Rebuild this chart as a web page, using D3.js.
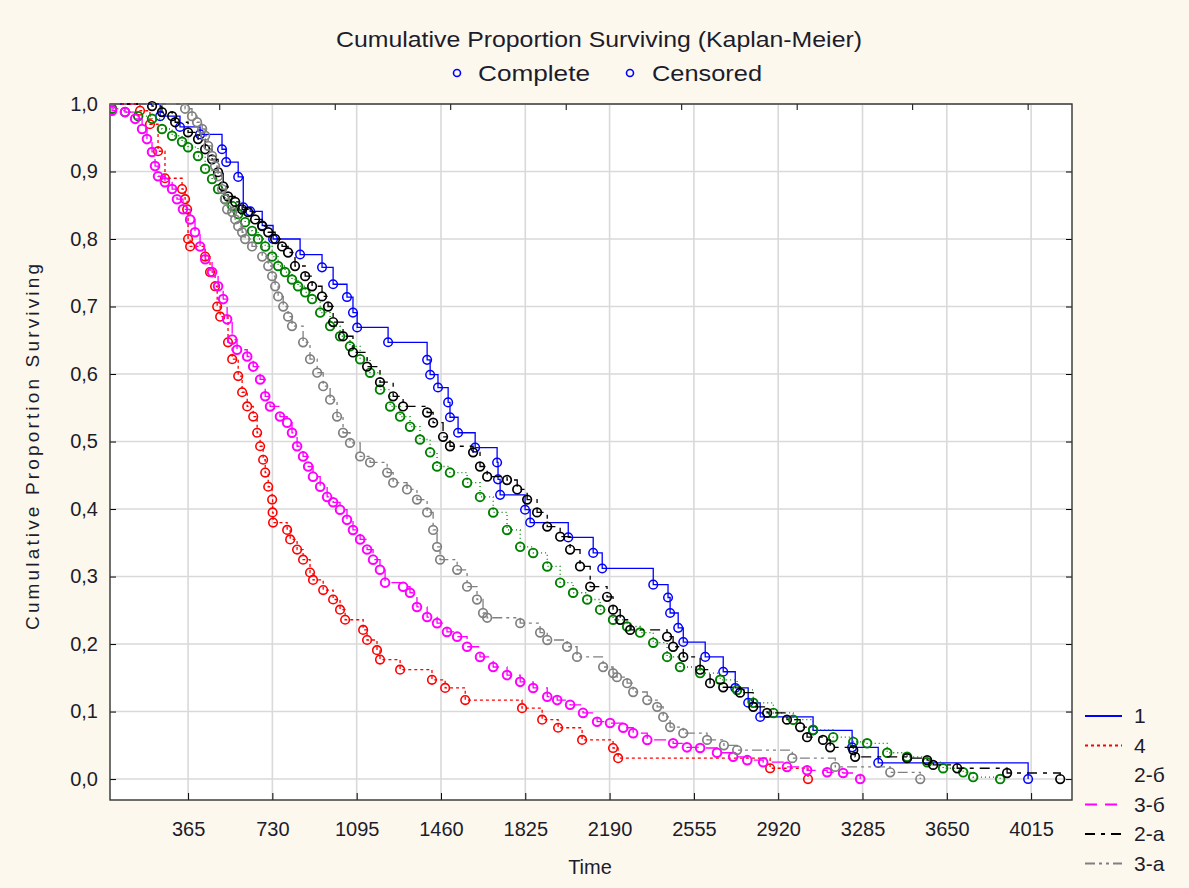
<!DOCTYPE html>
<html>
<head>
<meta charset="utf-8">
<script src="https://cdn.jsdelivr.net/npm/d3@7"></script>
<style>
  body { margin: 0; background: #fdf8ee; }
  text { font-family: "Liberation Sans", Arial, sans-serif; fill: #1c1c2a; }
</style>
</head>
<body>
<div id="chart"></div>
<script>
// Kaplan-Meier curves (time in days, proportion surviving)
const t1 = [27, 244, 330, 417, 512, 530, 582, 604, 634, 686, 733, 850, 945, 993, 1053, 1079, 1097, 1231, 1400, 1413, 1447, 1491, 1499, 1534, 1608, 1703, 1707, 1716, 1824, 1846, 2011, 2119, 2158, 2379, 2443, 2452, 2487, 2509, 2604, 2682, 2734, 2790, 2842, 3071, 3240, 3353, 4002];
const s1 = [1, .982, .966, .955, .933, .914, .892, .847, .841, .82, .80, .777, .758, .733, .714, .691, .669, .647, .621, .599, .58, .558, .536, .513, .491, .469, .444, .421, .399, .38, .358, .335, .312, .288, .269, .246, .224, .203, .181, .159, .135, .113, .092, .072, .047, .024, 0];

const t4 = [27, 157, 200, 235, 265, 339, 352, 361, 365, 374, 439, 460, 482, 491, 504, 538, 556, 582, 599, 621, 647, 664, 677, 690, 699, 712, 729, 731, 733, 794, 807, 837, 863, 893, 906, 950, 993, 1023, 1045, 1123, 1140, 1183, 1196, 1283, 1421, 1478, 1565, 1811, 1898, 1967, 2071, 2205, 2227, 2885, 3049];
const s4 = [1, .99, .97, .93, .89, .874, .859, .844, .80, .789, .774, .751, .73, .70, .685, .647, .622, .597, .573, .552, .537, .513, .493, .473, .454, .433, .414, .395, .38, .369, .355, .34, .325, .306, .295, .28, .266, .251, .236, .221, .206, .191, .177, .162, .147, .135, .117, .105, .088, .076, .058, .046, .031, .016, 0];

const t2b = [27, 36, 92, 149, 209, 252, 296, 339, 365, 408, 439, 469, 495, 525, 556, 582, 612, 642, 668, 699, 729, 755, 785, 815, 841, 872, 902, 937, 980, 1023, 1066, 1110, 1153, 1196, 1240, 1283, 1326, 1369, 1413, 1443, 1499, 1573, 1629, 1686, 1746, 1803, 1859, 1920, 1976, 2032, 2093, 2149, 2205, 2266, 2322, 2379, 2439, 2495, 2582, 2669, 2742, 2812, 2899, 2985, 3071, 3158, 3245, 3305, 3392, 3478, 3565, 3634, 3721, 3764, 3881];
const s2b = [1, .993, .988, .982, .978, .963, .953, .944, .936, .923, .904, .889, .874, .859, .849, .837, .825, .812, .80, .789, .774, .76, .751, .74, .73, .721, .711, .691, .671, .656, .641, .622, .602, .577, .552, .537, .522, .503, .484, .463, .454, .439, .418, .395, .369, .344, .335, .315, .291, .276, .266, .251, .236, .226, .217, .202, .181, .166, .157, .147, .132, .113, .098, .088, .073, .062, .055, .053, .039, .033, .025, .016, .01, .003, 0];

const t3b = [27, 36, 92, 136, 166, 187, 209, 222, 235, 265, 296, 317, 343, 374, 395, 417, 439, 469, 495, 517, 534, 556, 577, 621, 647, 677, 699, 720, 763, 794, 815, 837, 863, 885, 906, 937, 967, 993, 1023, 1053, 1079, 1110, 1140, 1166, 1196, 1218, 1296, 1326, 1356, 1400, 1443, 1486, 1530, 1573, 1629, 1686, 1746, 1803, 1859, 1920, 1963, 2019, 2075, 2136, 2192, 2249, 2292, 2353, 2465, 2525, 2582, 2655, 2725, 2786, 2855, 2958, 3045, 3132, 3201, 3275];
const s3b = [1, .99, .988, .978, .963, .948, .929, .908, .893, .884, .874, .859, .844, .829, .81, .789, .77, .751, .73, .711, .681, .651, .636, .626, .611, .592, .567, .552, .537, .528, .513, .493, .478, .463, .448, .433, .418, .41, .399, .384, .369, .355, .34, .325, .31, .291, .285, .276, .255, .24, .231, .218, .211, .196, .181, .166, .154, .144, .135, .122, .117, .11, .098, .085, .083, .076, .068, .058, .053, .047, .046, .039, .033, .028, .025, .018, .013, .01, .009, 0];

const t2a = [27, 209, 252, 296, 309, 365, 408, 439, 469, 495, 517, 538, 569, 599, 625, 655, 686, 712, 742, 772, 798, 828, 872, 902, 945, 971, 993, 1036, 1079, 1140, 1196, 1253, 1296, 1400, 1426, 1469, 1499, 1599, 1629, 1660, 1746, 1790, 1833, 1876, 1920, 1976, 2019, 2062, 2106, 2179, 2205, 2236, 2279, 2439, 2465, 2509, 2582, 2625, 2682, 2755, 2812, 2872, 2958, 3015, 3045, 3114, 3145, 3245, 3253, 3478, 3565, 3591, 3695, 3911, 4141];
const s2a = [1, .997, .988, .982, .973, .958, .948, .933, .918, .899, .878, .863, .855, .844, .84, .829, .819, .81, .80, .789, .78, .76, .745, .73, .715, .70, .677, .656, .632, .611, .588, .567, .552, .543, .528, .507, .493, .484, .463, .448, .443, .429, .414, .395, .374, .359, .34, .315, .285, .27, .251, .236, .221, .211, .196, .181, .162, .142, .136, .128, .107, .098, .088, .077, .062, .058, .047, .043, .033, .031, .028, .021, .016, .009, 0];

const t3a = [27, 352, 382, 404, 426, 439, 452, 469, 482, 495, 512, 525, 534, 556, 569, 582, 599, 612, 642, 686, 712, 729, 742, 755, 777, 798, 815, 863, 893, 924, 950, 980, 1010, 1036, 1066, 1110, 1153, 1227, 1253, 1313, 1356, 1400, 1426, 1443, 1456, 1530, 1573, 1616, 1642, 1660, 1803, 1889, 1920, 2006, 2049, 2162, 2205, 2222, 2266, 2292, 2353, 2396, 2422, 2452, 2509, 2612, 2685, 2742, 2981, 3167, 3405, 3535];
const s3a = [1, .993, .982, .973, .963, .953, .938, .923, .908, .893, .874, .859, .844, .84, .829, .819, .81, .80, .789, .774, .76, .745, .73, .715, .70, .685, .671, .647, .622, .602, .582, .562, .537, .513, .498, .478, .469, .454, .439, .429, .414, .395, .369, .344, .325, .31, .285, .266, .246, .239, .231, .217, .206, .196, .181, .166, .157, .151, .142, .129, .117, .107, .092, .077, .068, .058, .05, .043, .031, .018, .01, 0];

const seriesNames = ['1', '4', '2-б', '3-б', '2-a', '3-a'];
const xTicks = [365, 730, 1095, 1460, 1825, 2190, 2555, 2920, 3285, 3650, 4015];
const topTicks = [500, 1000, 1500, 2000, 2500, 3000, 3500, 4000];
const yTicks = [0, .1, .2, .3, .4, .5, .6, .7, .8, .9, 1];

const series = [
  { name: '1',   t: t1,  s: s1,  color: '#0000ff', dash: null,           legend: true,  sw: 1.5 },
  { name: '4',   t: t4,  s: s4,  color: '#ff0000', dash: '3,3',          legend: true,  sw: 1.6 },
  { name: '2-б', t: t2b, s: s2b, color: '#008000', dash: '1,3',          legend: false, sw: 1.9 },
  { name: '3-б', t: t3b, s: s3b, color: '#ff00ff', dash: '12,8',         legend: true,  sw: 2 },
  { name: '2-a', t: t2a, s: s2a, color: '#000000', dash: '10,6,4,6',     legend: true,  sw: 1.7 },
  { name: '3-a', t: t3a, s: s3a, color: '#808080', dash: '10,4,3,4,3,4', legend: true,  sw: 1.7 }
];

const width = 1189, height = 888;
const plot = { left: 110, right: 1072, top: 104, bottom: 800 };

const svg = d3.select('#chart').append('svg')
  .attr('width', width)
  .attr('height', height)
  .style('display', 'block')
  .style('background', '#fdf8ee');

const x = d3.scaleLinear().domain([27, 4192]).range([plot.left, plot.right]);
const y = d3.scaleLinear().domain([-0.031, 1]).range([plot.bottom, plot.top]);

svg.append('rect')
  .attr('x', plot.left).attr('y', plot.top)
  .attr('width', plot.right - plot.left).attr('height', plot.bottom - plot.top)
  .attr('fill', '#ffffff');

svg.append('clipPath').attr('id', 'clip')
  .append('rect')
  .attr('x', plot.left).attr('y', plot.top - 4)
  .attr('width', plot.right - plot.left).attr('height', plot.bottom - plot.top + 4);

// grid
const grid = svg.append('g').attr('stroke', '#d9d9d9').attr('stroke-width', 1.6);
grid.selectAll('.gx').data(xTicks).join('line')
  .attr('x1', d => x(d)).attr('x2', d => x(d))
  .attr('y1', plot.top).attr('y2', plot.bottom);
grid.selectAll('.gy').data(yTicks).join('line')
  .attr('x1', plot.left).attr('x2', plot.right)
  .attr('y1', d => y(d)).attr('y2', d => y(d));

// axes, ticks pointing inward
svg.append('g')
  .attr('transform', `translate(0,${plot.bottom})`)
  .call(d3.axisBottom(x).tickValues(xTicks).tickFormat(d3.format('d'))
    .tickSizeInner(-7).tickSizeOuter(0).tickPadding(22))
  .call(g => g.select('.domain').remove())
  .call(g => g.selectAll('text').attr('font-size', 20).attr('fill', '#1c1c2a'));

svg.append('g')
  .attr('transform', `translate(0,${plot.top})`)
  .call(d3.axisTop(x).tickValues(topTicks).tickSizeInner(-6).tickSizeOuter(0).tickFormat(''))
  .call(g => g.select('.domain').remove());

svg.append('g')
  .attr('transform', `translate(${plot.left},0)`)
  .call(d3.axisLeft(y).tickValues(yTicks).tickSizeInner(-6).tickSizeOuter(0).tickPadding(12)
    .tickFormat(d => d3.format('.1f')(d).replace('.', ',')))
  .call(g => g.select('.domain').remove())
  .call(g => g.selectAll('text').attr('font-size', 20).attr('fill', '#1c1c2a'));

svg.append('g')
  .attr('transform', `translate(${plot.right},0)`)
  .call(d3.axisRight(y).tickValues(yTicks.slice(0, 10)).tickSizeInner(-6).tickSizeOuter(0).tickFormat(''))
  .call(g => g.select('.domain').remove());

svg.append('rect')
  .attr('x', plot.left).attr('y', plot.top)
  .attr('width', plot.right - plot.left).attr('height', plot.bottom - plot.top)
  .attr('fill', 'none').attr('stroke', '#333').attr('stroke-width', 1.4);

// curves
const line = d3.line()
  .x(d => x(d[0]))
  .y(d => y(d[1]))
  .curve(d3.curveStepAfter);

const body = svg.append('g').attr('clip-path', 'url(#clip)');
series.forEach(ser => {
  const pts = ser.t.map((t, i) => [t, ser.s[i]]);
  body.append('path')
    .attr('d', line(pts))
    .attr('fill', 'none')
    .attr('stroke', ser.color)
    .attr('stroke-width', 1.3)
    .attr('stroke-dasharray', ser.dash);
  body.append('g').selectAll('circle')
    .data(pts.slice(1))
    .join('circle')
      .attr('cx', d => x(d[0]))
      .attr('cy', d => y(d[1]))
      .attr('r', 4.3)
      .attr('fill', 'none')
      .attr('stroke', ser.color)
      .attr('stroke-width', ser.sw);
});

// title and marker legend
svg.append('text')
  .attr('x', 336).attr('y', 47)
  .attr('font-size', 22)
  .attr('textLength', 526).attr('lengthAdjust', 'spacingAndGlyphs')
  .text('Cumulative Proportion Surviving (Kaplan-Meier)');

[['Complete', 457, 478, 112], ['Censored', 630, 652, 110]].forEach(([label, cx, tx, len]) => {
  svg.append('circle').attr('cx', cx).attr('cy', 73).attr('r', 3.5)
    .attr('fill', 'none').attr('stroke', '#0000ff').attr('stroke-width', 1.6);
  svg.append('text').attr('x', tx).attr('y', 81)
    .attr('font-size', 22)
    .attr('textLength', len).attr('lengthAdjust', 'spacingAndGlyphs')
    .text(label);
});

// axis titles
svg.append('text')
  .attr('x', 590).attr('y', 874)
  .attr('text-anchor', 'middle')
  .attr('font-size', 20)
  .text('Time');

svg.append('text')
  .attr('transform', 'translate(39,447) rotate(-90)')
  .attr('text-anchor', 'middle')
  .attr('font-size', 19)
  .attr('textLength', 366).attr('lengthAdjust', 'spacing')
  .text('Cumulative Proportion Surviving');

// series legend at right
const leg = svg.append('g').attr('transform', 'translate(1085,716)');
series.forEach((ser, i) => {
  const row = leg.append('g').attr('transform', `translate(0,${i * 29.5})`);
  if (ser.legend) {
    row.append('line')
      .attr('x1', 0).attr('x2', 37)
      .attr('stroke', ser.color).attr('stroke-width', 1.8)
      .attr('stroke-dasharray', ser.dash);
  }
  row.append('text')
    .attr('x', 49).attr('y', 7)
    .attr('font-size', 21)
    .text(seriesNames[i]);
});
</script>
</body>
</html>
